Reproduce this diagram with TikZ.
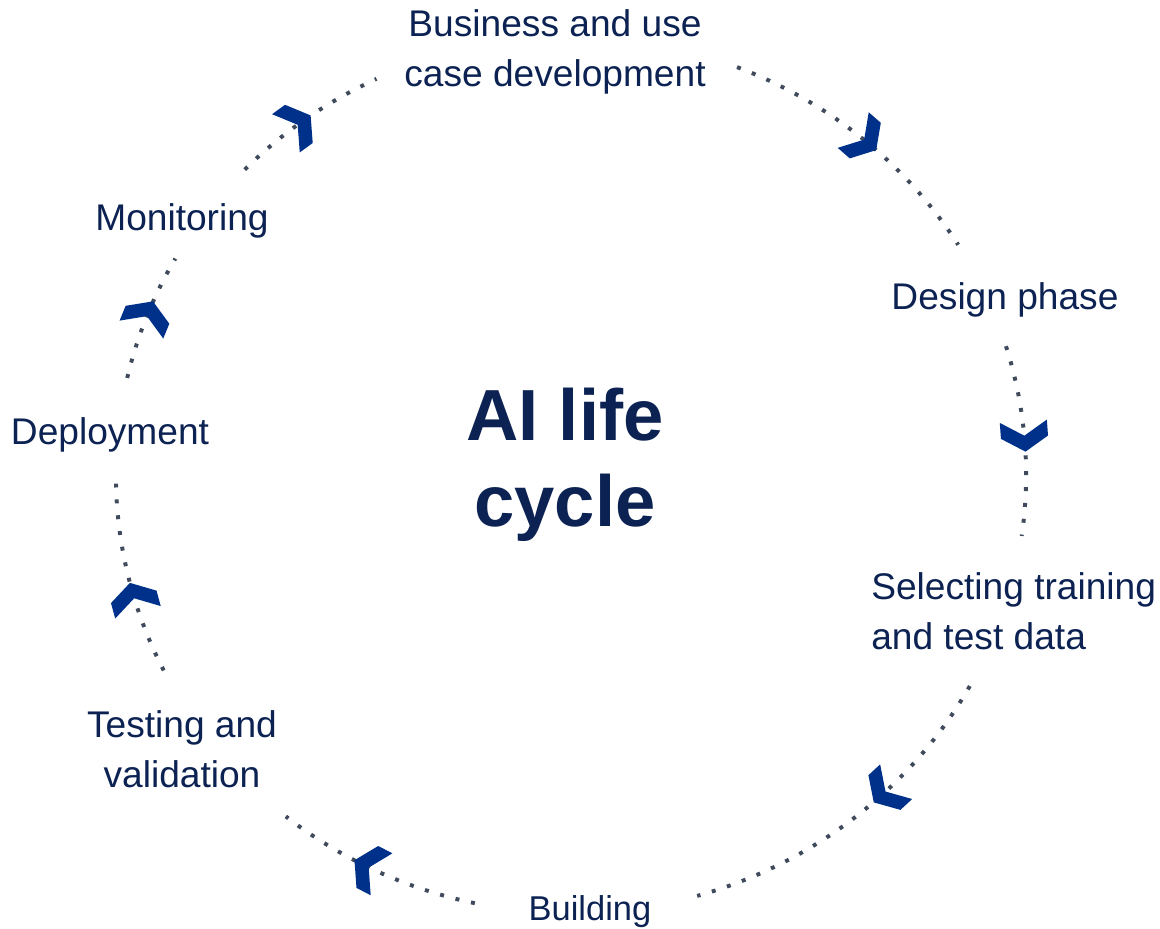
\documentclass[tikz,border=0pt]{standalone}
\usepackage{fontspec}
\setmainfont{Liberation Sans}
\usetikzlibrary{calc}
\definecolor{labelnavy}{HTML}{0C2252}
\definecolor{chevblue}{HTML}{00318A}
\definecolor{dotgray}{HTML}{3F4A5C}

\begin{document}
\begin{tikzpicture}[
    x=0.025cm, y=0.025cm,
    phase/.style={text=labelnavy, font=\fontsize{26.4}{35.5}\selectfont, align=center, inner sep=0pt},
    core/.style={text=labelnavy, font=\bfseries\fontsize{51.5}{61.5}\selectfont, align=center, inner sep=0pt},
    dotline/.style={draw=dotgray, line width=2.8pt, dash pattern=on 2.8pt off 8.5pt},
    chevron/.style={fill=chevblue}
]
    \path[use as bounding box] (0,0) rectangle (1160,929);
    \coordinate (c) at (571,454);

    % Centre title
    \node[core] (title) at (565,464) {AI life\\cycle};

    % Phases, clockwise from the top
    \node[phase] (biz) at (555,877) {Business and use\\case development};
    \node[phase] (design) at (1005,629) {Design phase};
    \node[phase, anchor=west, align=left] (select) at (871,318) {Selecting training\\and test data};
    \node[phase, font=\fontsize{24.5}{30}\selectfont, anchor=base] (build) at (590,8) {Building};
    \node[phase] (test) at (182,180) {Testing and\\validation};
    \node[phase] (deploy) at (110,494) {Deployment};
    \node[phase] (monitor) at (182,708) {Monitoring};

    % Dotted arcs between the phases
    \foreach \s/\e in {68.6/31.7, 17.1/-8, -28.8/-73.9, -102.2/-128.8, 206.5/179.7, 167.2/150.4, 135.8/115.3}
        \draw[dotline] ($(c)+(\s:11.375cm and 10.95cm)$) arc[start angle=\s, end angle=\e, x radius=11.375cm, y radius=10.95cm];

    % Chevrons showing the direction
    \foreach \t in {48.9, 4.1, -47.3, -117.4, 195.3, 157.7, 125.9}
        \fill[chevron, shift={($(c)+(\t:11.375cm and 10.95cm)$)}, rotate=\t-90]
            (8,0) -- (-6.5,23.6) -- (-22.5,23.6) -- (-8,0) -- (-22.5,-23.6) -- (-6.5,-23.6) -- cycle;
\end{tikzpicture}
\end{document}
